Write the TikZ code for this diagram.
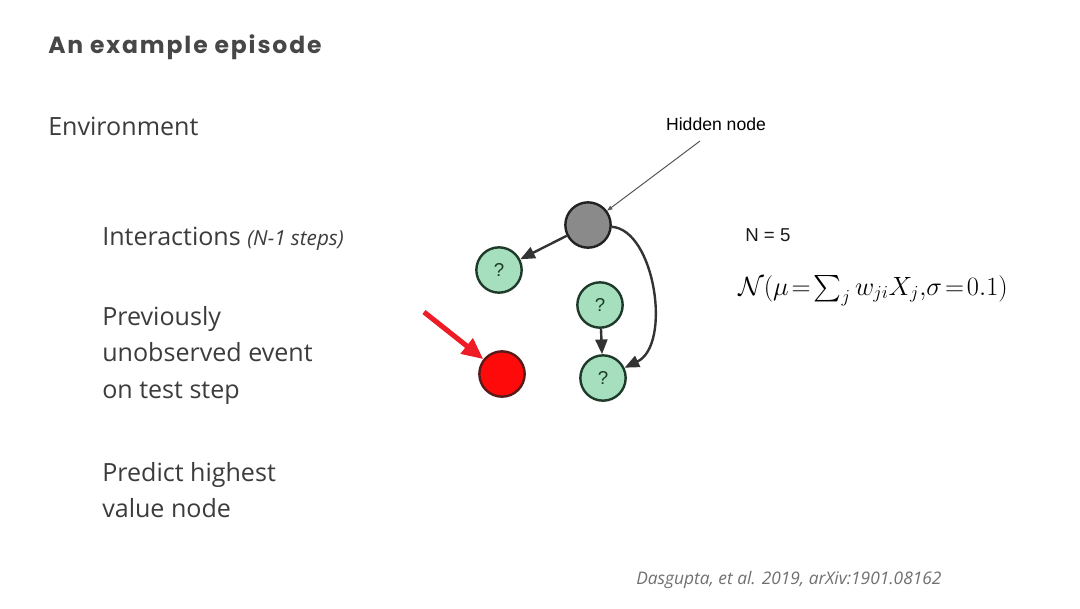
\documentclass[tikz,border=0pt]{standalone}
\usepackage{amsmath}
\usepackage{graphicx}
\usepackage{fontspec}
\setmainfont{Open Sans}
\newfontfamily\titlefont[LetterSpace=8]{Poppins}
\newfontfamily\arialfont{Liberation Sans}
\usetikzlibrary{arrows.meta}
\definecolor{txt}{HTML}{3C3C3C}
\definecolor{nodefill}{HTML}{A6DFBE}
\definecolor{nodeedge}{HTML}{1F3A2A}
\definecolor{qtext}{HTML}{1A3A26}
\definecolor{hidfill}{HTML}{8A8A8A}
\definecolor{hidedge}{HTML}{222222}
\definecolor{redfill}{HTML}{FF0A0A}
\definecolor{redarr}{HTML}{EE1C24}
\definecolor{rededge}{HTML}{5A1A1A}
\definecolor{arr}{HTML}{333333}
\definecolor{cite}{HTML}{707070}
\begin{document}
\begin{tikzpicture}[x=0.75pt,y=-0.75pt,
  lbl/.style={anchor=base west, inner sep=0pt, text=txt, font=\fontsize{18.8}{18.8}\selectfont},
  nd/.style={circle, line width=1.8pt, minimum size=34pt, inner sep=0pt},
  qnode/.style={nd, draw=nodeedge, fill=nodefill, font=\arialfont\fontsize{14}{14}\selectfont, text=qtext},
  dk/.style={draw=arr, line width=1.8pt, -{Triangle[length=11pt,width=9pt]}},
  redarrow/.style={draw=redarr, line width=3.8pt, -{Triangle[length=16pt,width=14pt]}},
  thin/.style={draw=black!65, line width=0.75pt, -{Triangle[length=4pt,width=3pt]}}]
\useasboundingbox[fill=white] (0,0) rectangle (1080,608);

% texts
\node[lbl, text=black!72, font=\titlefont\bfseries\fontsize{17.6}{17.6}\selectfont] (title) at (48,53) {An example episode};
\node[lbl] (env) at (48,135) {Environment};
\node[lbl] (inter) at (102,245) {Interactions {\itshape\fontsize{15.5}{15.5}\selectfont (N-1 steps)}};
\node[lbl] (prev1) at (102,325) {Previously};
\node[lbl] (prev2) at (102,361) {unobserved event};
\node[lbl] (prev3) at (102,398) {on test step};
\node[lbl] (pred1) at (102,481) {Predict highest};
\node[lbl] (pred2) at (102,517) {value node};
\node[anchor=base, inner sep=0pt, font=\arialfont\fontsize{13.2}{13.2}\selectfont, text=black] (hid) at (716,130) {Hidden node};
\node[anchor=base west, inner sep=0pt, font=\arialfont\fontsize{14}{14}\selectfont, text=black!90] (n5) at (745,241) {N = 5};
\node[anchor=base west, inner sep=0pt, font=\fontsize{20.5}{20.5}\selectfont] (form) at (738,295) {\scalebox{0.955}{$\mathcal{N}(\mu\!=\!\sum_j w_{ji}X_j,\!\sigma\!=\!0.1)$}};
\node[anchor=base west, inner sep=0pt, font=\itshape\fontsize{13}{13}\selectfont, text=cite] (cit) at (636,584) {Dasgupta, et al. 2019, arXiv:1901.08162};

% graph nodes
\node[nd, draw=hidedge, fill=hidfill] (g) at (588,225) {};
\node[qnode] (a) at (499,270) {?};
\node[qnode] (m) at (600,305) {?};
\node[qnode] (b) at (603,378) {?};
\node[nd, draw=rededge, fill=redfill] (r) at (502,374) {};
\coordinate (rs) at (424,312);
\coordinate (hs) at (700,141);

% connectors
\draw[dk] (g) -- (a);
\draw[dk] (m) -- (b);
\draw[dk] (g) .. controls (655,230) and (672,345) .. (b);
\draw[redarrow] (rs) -- (r);
\draw[thin] (hs) -- (g);
\end{tikzpicture}
\end{document}
